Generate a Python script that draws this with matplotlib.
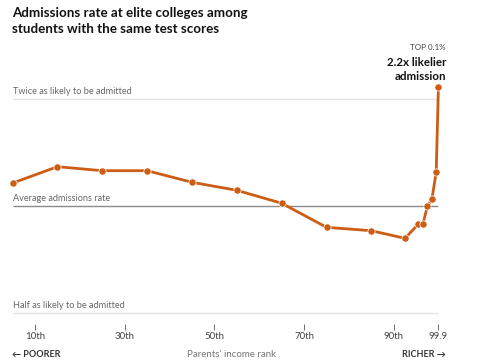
import matplotlib
matplotlib.use("Agg")
import matplotlib.pyplot as plt

# Data
percentile = [5, 15, 25, 35, 45, 55, 65, 75, 85, 92.5, 95.5, 96.5, 97.5, 98.5, 99.45, 99.95]
ratio = [1.16, 1.29, 1.257, 1.257, 1.166, 1.107, 1.018, 0.871, 0.852, 0.811,
         0.89, 0.89, 1.0, 1.046, 1.244, 2.16]
tick_pos = [10, 30, 50, 70, 90, 99.9]
tick_labels = ["10th", "30th", "50th", "70th", "90th", "99.9"]
ref_levels = [2.0, 1.0, 0.5]
ref_labels = ["Twice as likely to be admitted", "Average admissions rate",
              "Half as likely to be admitted"]

W, H = 485, 360
fig = plt.figure(figsize=(W / 100, H / 100), dpi=100)
plt.rcParams['font.family'] = ['Lato', 'DejaVu Sans']

top_px, bot_px = 60, 324
ax = fig.add_axes([0, 1 - bot_px / H, 1, (bot_px - top_px) / H])
ax.set_facecolor('none')

ppx = 4.485
x0 = 10 - 35 / ppx
x1 = 10 + (W - 35) / ppx
ax.set_xlim(x0, x1)

ppy = 107.0
ax.set_yscale('log', base=2)
ax.set_ylim(2 ** ((206 - bot_px) / ppy), 2 ** ((206 - top_px) / ppy))

orange = '#cc5d15'
for lvl, lab in zip(ref_levels, ref_labels):
    col = '#8a8a8a' if lvl == 1.0 else '#e3e3e3'
    ax.plot([percentile[0], 99.9], [lvl, lvl], color=col, lw=1.0, zorder=1,
            solid_capstyle='butt')
    ax.annotate(lab, xy=(percentile[0], lvl), xytext=(0, 2.5), textcoords='offset points',
                ha='left', va='bottom', fontsize=6.6, color='#666666')

ax.plot(percentile, ratio, color=orange, lw=2.0, marker='o', markersize=5.2,
        markeredgecolor='white', markeredgewidth=0.5, zorder=3, clip_on=False)

for s in ax.spines.values():
    s.set_visible(False)
ax.set_yticks([])
ax.yaxis.set_minor_locator(matplotlib.ticker.NullLocator())
ax.set_xticks(tick_pos)
ax.set_xticklabels(tick_labels)
ax.tick_params(axis='x', direction='out', length=4.5, width=0.6, color='#555555',
               labelsize=7, labelcolor='#444444', pad=1.5)

fig.text(446 / W, 1 - 48 / H, "TOP 0.1%", ha='right', va='center', fontsize=5.8,
         color='#444444')
fig.text(446 / W, 1 - 69.5 / H, "2.2x likelier\nadmission", ha='right', va='center',
         fontsize=8.3, fontweight='bold', color='#121212', linespacing=1.25)

fig.text(12 / W, 1 - 7 / H, "Admissions rate at elite colleges among\nstudents with the same test scores",
         ha='left', va='top', fontsize=9.6, fontweight='bold', color='#121212',
         linespacing=1.4)

fig.text(12 / W, 1 - 359 / H, "\u2190 POORER", ha='left', va='bottom', fontsize=6.5,
         fontweight='bold', color='#333333')
fig.text(232 / W, 1 - 359 / H, "Parents' income rank", ha='center', va='bottom', fontsize=7,
         color='#777777')
fig.text(446 / W, 1 - 359 / H, "RICHER \u2192", ha='right', va='bottom', fontsize=6.5,
         fontweight='bold', color='#333333')

fig.savefig('out.png', dpi=100, facecolor='white')
